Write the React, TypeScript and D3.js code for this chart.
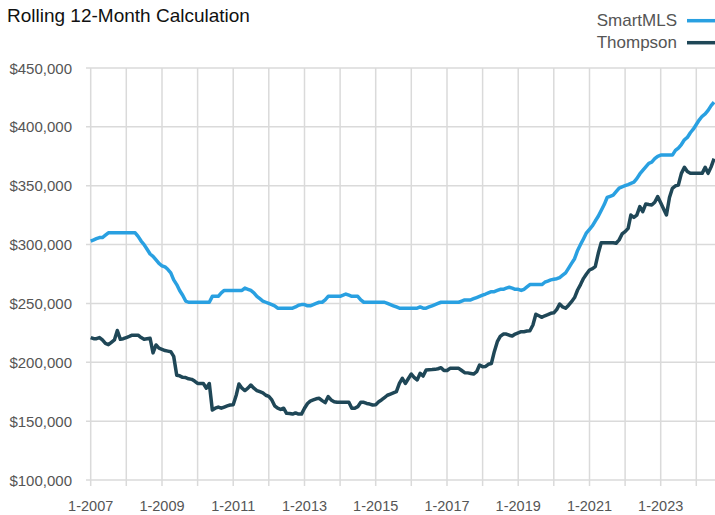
import React, { useEffect, useRef } from 'react';
import * as d3 from 'd3';

// monthly values in $ thousands, Jan 2007 .. Jul 2024
const smartMLS = [
  303, 304, 305, 306, 306, 308, 310, 310, 310, 310, 310, 310, // 2007
  310, 310, 310, 310, 307, 303, 300, 296, 292, 290, 287, 284, // 2008
  282, 281, 279, 276, 270, 266, 261, 257, 252, 251, 251, 251, // 2009
  251, 251, 251, 251, 251, 256, 256, 256, 259, 261, 261, 261, // 2010
  261, 261, 261, 261, 263, 262, 261, 259, 256, 254, 252, 251, // 2011
  250, 249, 248, 246, 246, 246, 246, 246, 246, 247, 248.5, 249, // 2012
  249, 248, 248, 249, 250, 251, 251, 253, 256, 256, 256, 256, // 2013
  256, 257, 258, 257, 256, 256, 256, 253, 251, 251, 251, 251, // 2014
  251, 251, 251, 251, 250, 249, 248, 247, 246, 246, 246, 246, // 2015
  246, 246, 246, 247, 246, 246, 247, 248, 249, 250, 251, 251, // 2016
  251, 251, 251, 251, 251, 252, 253, 253, 253, 254, 255, 256, // 2017
  257, 258, 259, 260, 260, 261, 262, 262, 263, 263.7, 263, 262, // 2018
  262, 261, 262, 264, 266, 266, 266, 266, 266, 268, 269, 270, // 2019
  270.5, 271, 272, 274, 276, 280, 284, 288, 295, 300, 305, 310, // 2020
  313, 316, 320, 324, 329, 334, 340, 341, 342, 345, 348, 349, // 2021
  350, 351, 352, 353, 356, 360, 363, 366, 369, 370, 373, 375, // 2022
  376, 376, 376, 376, 376, 380, 382, 385, 389, 391, 395, 398, // 2023
  402, 406, 409, 411, 414, 418, 421, // 2024
];

const thompson = [
  221, 220, 220, 221, 219, 216, 215, 217, 219, 227, 219.5, 220, // 2007
  221, 222, 223, 223, 223, 221, 219.5, 220, 220.4, 208, 214.7, 212, // 2008
  211, 210, 209.5, 209, 205, 189, 188.5, 187.2, 187, 186, 185.5, 184, // 2009
  182, 182, 182, 178, 182, 159.5, 161, 162, 161, 162, 163, 163.7, // 2010
  164, 172, 181.6, 178, 176, 178, 180.7, 178, 176, 175, 174, 172, // 2011
  171, 168, 163, 161, 160, 161, 156.6, 156.5, 156, 157, 156, 156, // 2012
  161, 165, 167, 168, 169, 169.4, 167.4, 165.7, 170.8, 168, 166.5, 166, // 2013
  166, 166, 166, 166, 161, 161, 162.3, 166, 166, 165, 164.5, 163.7, // 2014
  164, 166.5, 168, 170, 172, 173, 174, 175, 182, 186.4, 182, 186, // 2015
  190, 187, 185, 190.6, 188.3, 193.5, 193.7, 193.8, 194, 194.5, 195.4, 193, // 2016
  193, 194.9, 194.9, 194.9, 194.9, 193, 191.2, 191, 190.5, 190, 192, 197.7, // 2017
  196.3, 196.5, 198.3, 199, 209, 217.5, 222, 224, 224, 223, 222.3, 224, // 2018
  225, 226, 226, 226.5, 226.8, 231.7, 240.8, 239.5, 238.2, 239.5, 240.5, 241.6, // 2019
  242, 245, 249.5, 247, 245.9, 248.5, 251.5, 255, 261.4, 266, 271.3, 275, // 2020
  278.4, 279.5, 281.2, 292.6, 301.6, 301.6, 301.6, 301.6, 301.6, 301.1, 304, 309, // 2021
  311, 313.8, 325.1, 323.1, 325, 332.2, 327.9, 334.5, 334, 333.6, 336, 340.7, // 2022
  335.6, 330, 325.1, 340, 347.8, 349.8, 350.6, 360.5, 365.6, 362, 360.5, 360.5, // 2023
  360.5, 360.5, 360.5, 365.6, 360.5, 366, 373, // 2024
];

const seriesNames = ['SmartMLS', 'Thompson'];
const seriesColors = ['#29a0e1', '#1f4757'];
const yTicks = [100000, 150000, 200000, 250000, 300000, 350000, 400000, 450000];
const labelYears = [2007, 2009, 2011, 2013, 2015, 2017, 2019, 2021, 2023];
const gridYears = d3.range(2007, 2025);

const App: React.FC = () => {
  const ref = useRef<SVGSVGElement | null>(null);

  useEffect(() => {
    if (!ref.current) return;
    const svg = d3.select(ref.current);
    svg.selectAll('*').remove();

    const font = '"Liberation Sans", Arial, sans-serif';
    const x = d3.scaleTime()
      .domain([new Date(2007, 0, 1), new Date(2023, 0, 1)])
      .range([90.7, 660.7]);
    const y = d3.scaleLinear().domain([100000, 450000]).range([480, 68]);
    const month = (i: number) => new Date(2007, i, 1);

    // horizontal grid
    svg.append('g')
      .selectAll('line')
      .data(yTicks)
      .join('line')
      .attr('x1', 86)
      .attr('x2', 715)
      .attr('y1', d => y(d))
      .attr('y2', d => y(d))
      .attr('stroke', '#dadada')
      .attr('stroke-width', 1.5);

    // vertical grid
    svg.append('g')
      .selectAll('line')
      .data(gridYears)
      .join('line')
      .attr('x1', d => x(new Date(d, 0, 1)))
      .attr('x2', d => x(new Date(d, 0, 1)))
      .attr('y1', y(450000))
      .attr('y2', 486)
      .attr('stroke', '#dadada')
      .attr('stroke-width', 1.5);

    // y labels
    svg.append('g')
      .selectAll('text')
      .data(yTicks)
      .join('text')
      .attr('x', 72)
      .attr('y', d => y(d) + 5.5)
      .attr('text-anchor', 'end')
      .attr('font-family', font)
      .attr('font-size', 15)
      .attr('fill', '#555')
      .text(d => '$' + d3.format(',')(d));

    // x labels
    svg.append('g')
      .selectAll('text')
      .data(labelYears)
      .join('text')
      .attr('x', d => x(new Date(d, 0, 1)))
      .attr('y', 511)
      .attr('text-anchor', 'middle')
      .attr('font-family', font)
      .attr('font-size', 14.5)
      .attr('fill', '#555')
      .text(d => `1-${d}`);

    // lines
    const line = d3.line<number>()
      .x((_, i) => x(month(i)))
      .y(d => y(d * 1000));

    [smartMLS, thompson].forEach((vals, k) => {
      svg.append('path')
        .datum(vals)
        .attr('d', line)
        .attr('fill', 'none')
        .attr('stroke', seriesColors[k])
        .attr('stroke-width', 3.5)
        .attr('stroke-linejoin', 'round');
    });

    // title
    svg.append('text')
      .attr('x', 7)
      .attr('y', 22)
      .attr('font-family', font)
      .attr('font-size', 19)
      .attr('fill', '#111')
      .text('Rolling 12-Month Calculation');

    // legend
    const legend = svg.append('g');
    seriesNames.forEach((name, k) => {
      const cy = 20.7 + k * 22;
      legend.append('text')
        .attr('x', 677)
        .attr('y', cy + 5.5)
        .attr('text-anchor', 'end')
        .attr('font-family', font)
        .attr('font-size', 17)
        .attr('fill', '#555')
        .text(name);
      legend.append('line')
        .attr('x1', 687)
        .attr('x2', 715)
        .attr('y1', cy)
        .attr('y2', cy)
        .attr('stroke', seriesColors[k])
        .attr('stroke-width', 3.5);
    });
  }, []);

  return (
    <svg
      ref={ref}
      width={715}
      height={515}
      style={{ position: 'absolute', left: 0, top: 0, display: 'block', background: '#fff' }}
    />
  );
};

export default App;
